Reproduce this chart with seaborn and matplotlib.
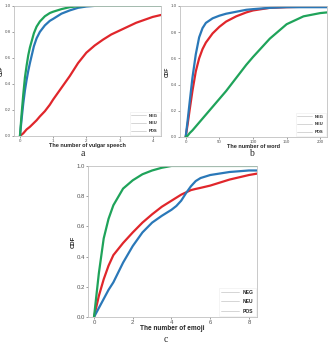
import numpy as np
import pandas as pd
import seaborn as sns
import matplotlib
matplotlib.use("Agg")
import matplotlib.pyplot as plt
from matplotlib.lines import Line2D

# panel a: number of vulgar speech
a_x = [0, 0.05, 0.1, 0.15, 0.2, 0.25, 0.3, 0.42, 0.5, 0.6, 0.75, 0.9, 1.0, 1.25,
       1.5, 1.75, 2.0, 2.25, 2.5, 2.75, 3.0, 3.5, 4.0, 4.25]
a_neg = [0, 0.01, 0.02, 0.035, 0.05, 0.06, 0.07, 0.10, 0.12, 0.15, 0.19, 0.24,
         0.28, 0.37, 0.46, 0.56, 0.64, 0.695, 0.74, 0.78, 0.81, 0.87, 0.915, 0.93]
a_neu = [0, 0.13, 0.25, 0.35, 0.43, 0.50, 0.56, 0.69, 0.75, 0.80, 0.85, 0.885,
         0.90, 0.94, 0.965, 0.985, 0.995, 1.0, 1.0, 1.0, 1.0, 1.0, 1.0, 1.0]
a_pos = [0, 0.17, 0.32, 0.45, 0.54, 0.62, 0.68, 0.79, 0.84, 0.88, 0.92, 0.945,
         0.955, 0.975, 0.99, 0.997, 1.0, 1.0, 1.0, 1.0, 1.0, 1.0, 1.0, 1.0]

# panel b: number of word
b_x = [0, 3, 6, 10, 15, 20, 25, 30, 40, 50, 60, 75, 90, 100, 125, 150, 175, 200, 210]
b_neg = [0, 0.1, 0.21, 0.35, 0.50, 0.60, 0.67, 0.72, 0.79, 0.84, 0.88, 0.92,
         0.95, 0.965, 0.985, 0.99, 0.993, 0.995, 0.995]
b_neu = [0, 0.13, 0.27, 0.45, 0.63, 0.76, 0.83, 0.87, 0.905, 0.925, 0.94,
         0.955, 0.97, 0.975, 0.985, 0.99, 0.99, 0.99, 0.99]
b_pos = [0, 0.01, 0.03, 0.05, 0.08, 0.11, 0.14, 0.17, 0.23, 0.29, 0.35, 0.45,
         0.55, 0.61, 0.75, 0.86, 0.92, 0.945, 0.95]

# panel c: number of emoji
c_x = [0, 0.25, 0.5, 0.75, 1.0, 1.5, 2.0, 2.5, 3.0, 3.5, 4.0, 4.25, 4.5, 4.75,
       5.0, 5.25, 5.5, 6.0, 6.5, 7.0, 7.5, 8.0, 8.45]
c_neg = [0, 0.14, 0.25, 0.34, 0.41, 0.49, 0.56, 0.625, 0.68, 0.73, 0.77, 0.79,
         0.81, 0.825, 0.84, 0.848, 0.855, 0.87, 0.89, 0.91, 0.925, 0.94, 0.95]
c_neu = [0, 0.06, 0.12, 0.18, 0.23, 0.36, 0.47, 0.56, 0.625, 0.67, 0.71, 0.735,
         0.77, 0.82, 0.865, 0.9, 0.92, 0.94, 0.95, 0.96, 0.965, 0.97, 0.97]
c_pos = [0, 0.29, 0.52, 0.65, 0.74, 0.85, 0.905, 0.945, 0.97, 0.988, 1.0, 1.0,
         1.0, 1.0, 1.0, 1.0, 1.0, 1.0, 1.0, 1.0, 1.0, 1.0, 1.0]

labels = ["NEG", "NEU", "POS"]
colors = ["#e0262b", "#2a78b8", "#1fa35a"]

sns.set_theme(style="white")
plt.rcParams["font.family"] = ["Liberation Sans", "DejaVu Sans"]

fig = plt.figure(figsize=(3.29, 3.45), dpi=100)


def panel(rect, x, ys, xlabel, xlim, xticks, tag, tag_xy, small):
    ax = fig.add_axes(rect)
    df = pd.DataFrame({"x": np.tile(x, 3),
                       "cdf": np.concatenate(ys),
                       "group": np.repeat(labels, len(x))})
    sns.lineplot(data=df, x="x", y="cdf", hue="group", palette=colors,
                 linewidth=1.6, ax=ax, legend=False, sort=False)
    ax.set_xlim(*xlim)
    ax.set_ylim(0, 1.0)
    ax.set_xticks(xticks)
    ax.set_yticks([0, 0.2, 0.4, 0.6, 0.8, 1.0])
    ax.set_yticklabels(["0.0", "0.2", "0.4", "0.6", "0.8", "1.0"])
    tick_fs = 3.2 if small else 4.3
    lab_fs = 4.0 if small else 4.7
    ax.set_xlabel(xlabel, fontsize=lab_fs, fontweight="bold", labelpad=0.3)
    ax.set_ylabel("CDF", fontsize=lab_fs - 0.4, fontweight="bold", labelpad=0.8)
    ax.tick_params(labelsize=tick_fs, length=1.2, width=0.4, pad=0.8,
                   colors="#555555", bottom=True, left=True)
    for s in ax.spines.values():
        s.set_color("#c0c0c0")
        s.set_linewidth(0.6)
    handles = [Line2D([], [], color="#cfcfcf", lw=0.6) for _ in labels]
    leg_fs = 3.0 if small else 3.6
    leg = ax.legend(handles, labels, loc="lower right",
                    prop={"weight": "bold", "size": leg_fs},
                    handlelength=3.5, borderpad=0.4, labelspacing=0.9,
                    frameon=True, fancybox=False, borderaxespad=0.3)
    leg.get_frame().set_edgecolor("#e8e8e8")
    leg.get_frame().set_linewidth(0.4)
    fig.text(tag_xy[0], tag_xy[1], tag, fontsize=7,
             family=["Liberation Serif"], ha="center", va="center")
    return ax


panel([0.0425, 0.606, 0.447, 0.377], a_x, [a_neg, a_neu, a_pos],
      "The number of vulgar speech", (-0.18, 4.25), [0, 1, 2, 3, 4],
      "a", (83 / 329, 1 - 154 / 345), True)
panel([0.547, 0.603, 0.447, 0.380], b_x, [b_neg, b_neu, b_pos],
      "The number of word", (-8.5, 210), [0, 50, 100, 150, 200],
      "b", (251 / 329, 1 - 154 / 345), True)
panel([0.2675, 0.081, 0.514, 0.438], c_x, [c_neg, c_neu, c_pos],
      "The number of emoji", (-0.31, 8.42), [0, 2, 4, 6, 8],
      "c", (166 / 329, 1 - 340 / 345), False)

fig.savefig("out.png", dpi=100)
